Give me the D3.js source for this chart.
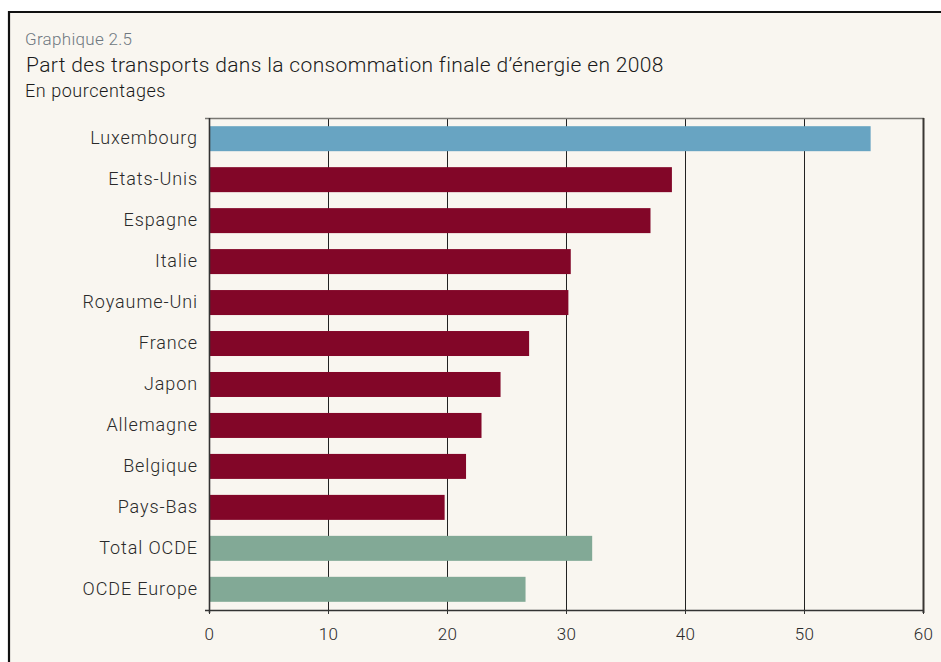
<!DOCTYPE html>
<html>
<head>
<meta charset="utf-8">
<script src="https://cdn.jsdelivr.net/npm/d3@7"></script>
<style>
  body { margin: 0; background: #fff; }
  svg text { font-family: Roboto, "Noto Sans", sans-serif; font-weight: 300; }
</style>
</head>
<body>
<svg id="chart" width="941" height="662"></svg>
<script>
const countries = ["Luxembourg", "Etats-Unis", "Espagne", "Italie", "Royaume-Uni", "France",
  "Japon", "Allemagne", "Belgique", "Pays-Bas", "Total OCDE", "OCDE Europe"];
const shares = [55.6, 38.9, 37.1, 30.4, 30.2, 26.9, 24.5, 22.9, 21.6, 19.8, 32.2, 26.6];
const groups = ["lux", "pays", "pays", "pays", "pays", "pays", "pays", "pays", "pays", "pays", "ocde", "ocde"];
const xTicks = [0, 10, 20, 30, 40, 50, 60];

const colors = { lux: "#68a4c2", pays: "#820628", ocde: "#82a996" };

const svg = d3.select("#chart");
const margin = { left: 209, right: 18, top: 118, bottom: 52 };
const width = 941, height = 662;

// fond et cadre
svg.append("rect").attr("x", 9).attr("y", 12).attr("width", width - 9).attr("height", height - 12)
  .attr("fill", "#f9f6f0");
svg.append("path").attr("d", `M9,${height} V12 H${width}`)
  .attr("fill", "none").attr("stroke", "#111").attr("stroke-width", 2.2);

svg.append("text").attr("x", 25).attr("y", 45).attr("font-size", 17).attr("fill", "#6f7880")
  .attr("letter-spacing", 0.3).text("Graphique 2.5");
svg.append("text").attr("x", 26).attr("y", 72).attr("font-size", 21).attr("fill", "#1a1a1a")
  .attr("letter-spacing", 0.35)
  .text("Part des transports dans la consommation finale d’énergie en 2008");
svg.append("text").attr("x", 25).attr("y", 97).attr("font-size", 18).attr("fill", "#1a1a1a")
  .attr("letter-spacing", 0.55).text("En pourcentages");

const x = d3.scaleLinear().domain([0, 60]).range([margin.left, width - margin.right]);
const y = d3.scaleBand().domain(countries).range([margin.top, height - margin.bottom])
  .paddingInner(0.39).paddingOuter(0.2);

const y0 = margin.top, y1 = height - margin.bottom;

// grille
svg.append("g").selectAll("line").data(xTicks.slice(1, -1)).join("line")
  .attr("x1", d => Math.round(x(d)) + 0.5).attr("x2", d => Math.round(x(d)) + 0.5)
  .attr("y1", y0).attr("y2", y1)
  .attr("stroke", "#222").attr("stroke-width", 1);

// barres
svg.append("g").selectAll("rect").data(countries).join("rect")
  .attr("x", x(0))
  .attr("y", d => y(d))
  .attr("width", (d, i) => x(shares[i]) - x(0))
  .attr("height", y.bandwidth())
  .attr("fill", (d, i) => colors[groups[i]]);

// cadre du graphique
svg.append("line").attr("x1", x(0) - 4).attr("x2", x(60) + 1).attr("y1", y0 + 0.5).attr("y2", y0 + 0.5)
  .attr("stroke", "#7a7873").attr("stroke-width", 1.6);
svg.append("line").attr("x1", x(60) + 0.5).attr("x2", x(60) + 0.5).attr("y1", y0).attr("y2", y1 + 3)
  .attr("stroke", "#3a3633").attr("stroke-width", 2);

// axe des x
const xAxis = svg.append("g").attr("transform", `translate(0,${y1})`)
  .call(d3.axisBottom(x).tickValues(xTicks).tickSize(4).tickPadding(14).tickSizeOuter(0));
xAxis.select(".domain").attr("stroke", "#333").attr("stroke-width", 1.5)
  .attr("d", `M${x(0) - 4},0.5H${x(60)}`);
xAxis.selectAll(".tick line").attr("stroke", "#333");
xAxis.selectAll(".tick text").attr("font-size", 17).attr("fill", "#2a2a2a")
  .attr("font-family", "Roboto, sans-serif").attr("font-weight", 300).attr("letter-spacing", 0.4);

// axe des y
const yAxis = svg.append("g").attr("transform", `translate(${x(0)},0)`)
  .call(d3.axisLeft(y).tickSize(0).tickPadding(11));
yAxis.select(".domain").attr("stroke", "#333").attr("stroke-width", 1.6)
  .attr("d", `M0.5,${y0}V${y1 + 3}`);
yAxis.selectAll(".tick text").attr("font-size", 18).attr("fill", "#2a2a2a")
  .attr("font-family", "Roboto, sans-serif").attr("font-weight", 300).attr("letter-spacing", 0.9);
</script>
</body>
</html>
